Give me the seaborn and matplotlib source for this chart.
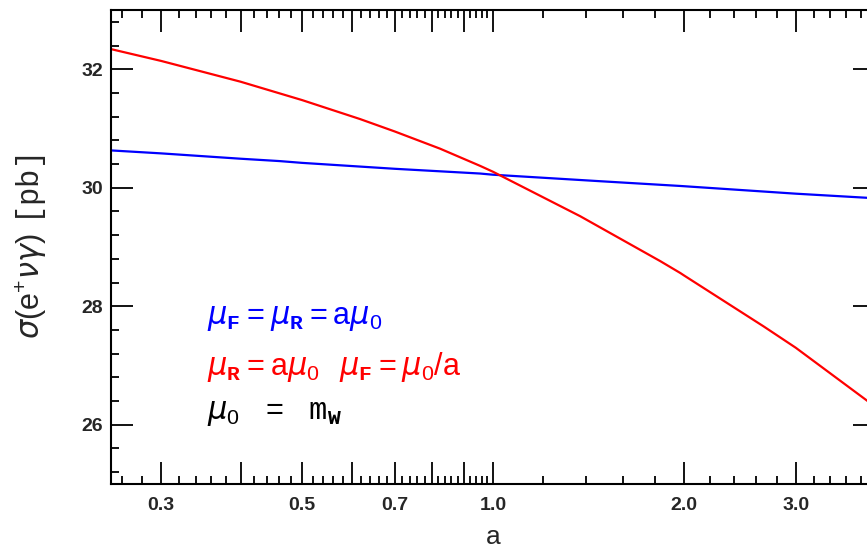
import matplotlib
matplotlib.use("Agg")
import matplotlib.pyplot as plt
import matplotlib.ticker as mticker
import seaborn as sns
import pandas as pd

# ---- data ----
a_blue = [0.25, 0.30, 0.40, 0.461, 0.50, 0.70, 0.954, 1.00, 1.477, 1.974, 3.00, 3.894, 4.00]
sig_blue = [30.63, 30.58, 30.49, 30.45, 30.42, 30.32, 30.24, 30.22, 30.11, 30.03, 29.90, 29.83, 29.82]

a_red = [0.25, 0.30, 0.40, 0.50, 0.617, 0.70, 0.825, 0.954, 1.00, 1.372, 1.836, 1.974, 2.00, 2.67, 3.00, 3.894, 4.00]
sig_red = [32.34, 32.14, 31.79, 31.48, 31.16, 30.95, 30.66, 30.37, 30.27, 29.52, 28.76, 28.56, 28.52, 27.66, 27.30, 26.40, 26.31]

x_major = [0.3, 0.4, 0.5, 0.6, 0.7, 0.8, 0.9, 1.0, 2.0, 3.0, 4.0]
x_labeled = [0.3, 0.5, 0.7, 1.0, 2.0, 3.0]
x_minor = [0.26, 0.28, 0.32, 0.34, 0.36, 0.38, 0.42, 0.44, 0.46, 0.48,
           0.52, 0.54, 0.56, 0.58, 0.62, 0.64, 0.66, 0.68, 0.72, 0.74, 0.76, 0.78,
           0.82, 0.84, 0.86, 0.88, 0.92, 0.94, 0.96, 0.98,
           1.2, 1.4, 1.6, 1.8, 2.2, 2.4, 2.6, 2.8, 3.2, 3.4, 3.6, 3.8]
y_major = [26, 28, 30, 32]
y_minor = [25.2, 25.6, 26.4, 26.8, 27.2, 27.6, 28.4, 28.8, 29.2, 29.6,
           30.4, 30.8, 31.2, 31.6, 32.4, 32.8]

label_blue = r'$\mu_{\mathbf{F}}=\mu_{\mathbf{R}}=\mathrm{a}\mu_0$'
label_red = r'$\mu_{\mathbf{R}}=\mathrm{a}\mu_0\ \ \mu_{\mathbf{F}}=\mu_0/\mathrm{a}$'
label_black = r'$\mu_0\ \ =\ \ \mathtt{m}_{\mathbf{W}}$'
ylabel = r'$\sigma(\mathrm{e}^{+}\nu\gamma)\ \mathtt{[pb]}$'

df_blue = pd.DataFrame({"a": a_blue, "sigma": sig_blue})
df_red = pd.DataFrame({"a": a_red, "sigma": sig_red})

sns.set_theme(style="ticks")
plt.rcParams['font.family'] = ['Liberation Sans', 'DejaVu Sans']
plt.rcParams['mathtext.fontset'] = 'custom'
plt.rcParams['mathtext.rm'] = 'Liberation Sans'
plt.rcParams['mathtext.it'] = 'DejaVu Sans:italic'
plt.rcParams['mathtext.bf'] = 'Liberation Mono:bold'
plt.rcParams['mathtext.tt'] = 'Liberation Mono'
plt.rcParams['mathtext.sf'] = 'DejaVu Sans'

fig = plt.figure(figsize=(8.67, 5.47), dpi=100)
ax = fig.add_axes([111/867, 1-484/547, (875-111)/867, (484-10)/547])

sns.lineplot(data=df_blue, x="a", y="sigma", ax=ax, color="#0000ff", lw=1.6)
sns.lineplot(data=df_red, x="a", y="sigma", ax=ax, color="#ff0000", lw=1.6)

ax.set_xscale("log")
ax.set_xlim(0.25, 4.0)
ax.set_ylim(25, 33)

ax.xaxis.set_major_locator(mticker.FixedLocator(x_major))
ax.xaxis.set_major_formatter(mticker.FuncFormatter(
    lambda v, p: (f"{v:.1f}" if any(abs(v - t) < 1e-9 for t in x_labeled) else "")))
ax.xaxis.set_minor_locator(mticker.FixedLocator(x_minor))
ax.xaxis.set_minor_formatter(mticker.NullFormatter())
ax.yaxis.set_major_locator(mticker.FixedLocator(y_major))
ax.yaxis.set_minor_locator(mticker.FixedLocator(y_minor))

ax.tick_params(which="both", direction="in", top=True, right=True, color="black",
               width=1.3)
ax.tick_params(which="major", length=16)
ax.tick_params(which="minor", length=6)
ax.tick_params(axis="x", which="major", pad=9, labelsize=14)
ax.tick_params(axis="y", which="major", pad=6, labelsize=14)
for lab in ax.get_xticklabels() + ax.get_yticklabels():
    lab.set_fontweight("bold")
for sp in ax.spines.values():
    sp.set_linewidth(1.5)
    sp.set_color("black")

ax.set_xlabel("a", fontsize=19, labelpad=8)
ax.set_ylabel(ylabel, fontsize=22, labelpad=23)

ax.text(0.354, 27.81, label_blue, color="#0000ff", fontsize=22, ha="left", va="center")
ax.text(0.354, 26.97, label_red, color="#ff0000", fontsize=22, ha="left", va="center")
ax.text(0.354, 26.20, label_black, color="black", fontsize=22, ha="left", va="center")

fig.savefig("out.png", dpi=100)
